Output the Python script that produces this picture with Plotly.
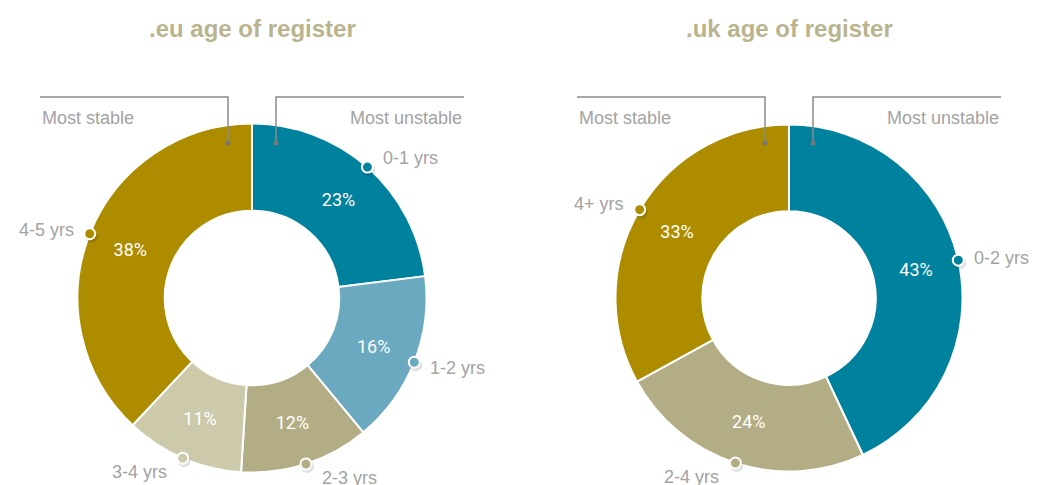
import math
import plotly.graph_objects as go

W, H = 1037, 485
OFF = 8  # page body margin: shift so that coordinates are screen pixels

# ---- data ----
eu_labels = ["0-1 yrs", "1-2 yrs", "2-3 yrs", "3-4 yrs", "4-5 yrs"]
eu_values = [23, 16, 12, 11, 38]
uk_labels = ["0-2 yrs", "2-4 yrs", "4+ yrs"]
uk_values = [43, 24, 33]
titles = [".eu age of register", ".uk age of register"]
bracket_labels = ["Most stable", "Most unstable"]

# ---- styles ----
TEAL = "#00819e"
LBLUE = "#6aa9bf"
TAN = "#b3ad86"
BEIGE = "#cdc9ab"
GOLD = "#ad8c00"
eu_colors = [TEAL, LBLUE, TAN, BEIGE, GOLD]
uk_colors = [TEAL, TAN, GOLD]
TITLE_COLOR = "#bab48e"
GRAY_TEXT = "#a3a3a3"
LINE_GRAY = "#8a8a8a"
FONT = "Liberation Sans, Arial, Helvetica, sans-serif"
PCT_FONT = "Roboto, Liberation Sans, Arial, sans-serif"

charts = [
    dict(labels=eu_labels, values=eu_values, colors=eu_colors, title=titles[0],
         cx=252.0, cy=298.0, r=174.5),
    dict(labels=uk_labels, values=uk_values, colors=uk_colors, title=titles[1],
         cx=789.0, cy=298.0, r=173.5),
]

fig = go.Figure()
fig.add_trace(go.Scatter(x=[OFF, W], y=[OFF, H], mode="markers",
                         marker=dict(opacity=0), hoverinfo="skip", showlegend=False))

shapes = []
annotations = []

for c in charts:
    cx, cy, r = c["cx"], c["cy"], c["r"]
    fig.add_trace(go.Pie(
        labels=c["labels"], values=c["values"],
        domain=dict(x=[(cx - r - OFF) / W, (cx + r - OFF) / W],
                    y=[1 - (cy + r - OFF) / H, 1 - (cy - r - OFF) / H]),
        hole=0.5, sort=False, direction="clockwise", rotation=0,
        marker=dict(colors=c["colors"], line=dict(color="white", width=2)),
        texttemplate="%{value}%", textposition="inside",
        insidetextorientation="horizontal",
        textfont=dict(color="white", size=18, family=PCT_FONT),
        hoverinfo="skip", showlegend=False,
    ))

    annotations.append(dict(x=cx, y=28, xref="x", yref="y", text="<b>%s</b>" % c["title"],
                            showarrow=False, xanchor="center", yanchor="middle",
                            font=dict(size=24, color=TITLE_COLOR, family=FONT)))

    for side, lab in zip((-1, 1), bracket_labels):
        xo = cx + side * 212
        xi = cx + side * 24
        shapes.append(dict(type="path", xref="x", yref="y", layer="above",
                           path="M %f 97 L %f 97 L %f 143" % (xo, xi, xi),
                           line=dict(color=LINE_GRAY, width=1.5)))
        shapes.append(dict(type="circle", xref="x", yref="y", layer="above",
                           x0=xi - 2.5, x1=xi + 2.5, y0=140.5, y1=145.5,
                           fillcolor="#777777", line=dict(width=0)))
        annotations.append(dict(x=xo, y=118, xref="x", yref="y", text=lab,
                                showarrow=False,
                                xanchor="left" if side < 0 else "right",
                                yanchor="middle",
                                font=dict(size=18, color=GRAY_TEXT, family=FONT)))

    total = float(sum(c["values"]))
    cum = 0.0
    for lab, v, col in zip(c["labels"], c["values"], c["colors"]):
        frac = (cum + v / 2.0) / total
        cum += v
        th = 2 * math.pi * frac
        s, co = math.sin(th), math.cos(th)
        px = cx + r * s
        py = cy - r * co
        shapes.append(dict(type="circle", xref="x", yref="y", layer="above",
                           x0=px - 5, x1=px + 8, y0=py - 4, y1=py + 9,
                           fillcolor="rgba(0,0,0,0.12)", line=dict(width=0)))
        shapes.append(dict(type="circle", xref="x", yref="y", layer="above",
                           x0=px - 5.5, x1=px + 5.5, y0=py - 5.5, y1=py + 5.5,
                           fillcolor=col, line=dict(color="white", width=2)))
        annotations.append(dict(x=px + (14 if s >= 0 else -14), y=py + 1 - 14 * co,
                                xref="x", yref="y", text=lab, showarrow=False,
                                xanchor="left" if s >= 0 else "right",
                                yanchor="middle",
                                font=dict(size=18, color=GRAY_TEXT, family=FONT)))

fig.update_layout(
    width=W, height=H,
    margin=dict(l=0, r=0, t=0, b=0),
    paper_bgcolor="white", plot_bgcolor="white",
    xaxis=dict(range=[OFF, W + OFF], visible=False, fixedrange=True),
    yaxis=dict(range=[H + OFF, OFF], visible=False, fixedrange=True),
    shapes=shapes, annotations=annotations,
    showlegend=False,
)

fig.write_html("out.html")
